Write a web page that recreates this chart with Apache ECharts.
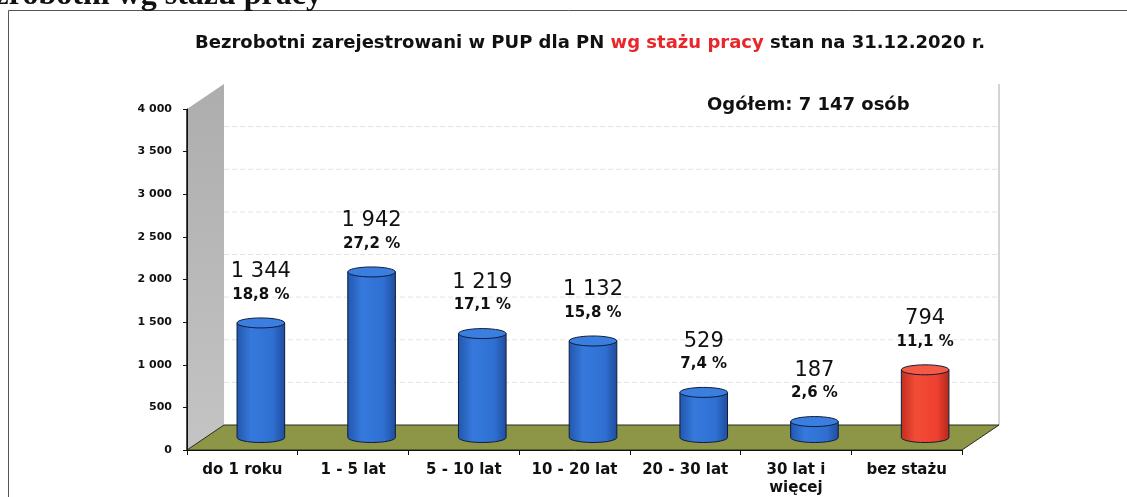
<!DOCTYPE html>
<html>
<head>
<meta charset="utf-8">
<script src="https://cdn.jsdelivr.net/npm/echarts@6/dist/echarts.min.js"></script>
<style>
html, body { margin: 0; padding: 0; background: #fff; }
#chart { width: 1127px; height: 497px; }
</style>
</head>
<body>
<div id="chart"></div>
<script>
var categories = ['do 1 roku', '1 - 5 lat', '5 - 10 lat', '10 - 20 lat', '20 - 30 lat', '30 lat i\nwięcej', 'bez stażu'];
var values = [1344, 1942, 1219, 1132, 529, 187, 794];
var percents = ['18,8 %', '27,2 %', '17,1 %', '15,8 %', '7,4 %', '2,6 %', '11,1 %'];
var yMin = 0, yMax = 4000, yStep = 500;
var heading = 'Bezrobotni wg stażu pracy';
var totalLabel = 'Ogółem: 7 147 osób';

var FONT = '"DejaVu Sans", Arial, sans-serif';
var DX = 37, DY = -25; // depth of the 3D box

function fmt(v) {
    return String(v).replace(/\B(?=(\d{3})+(?!\d))/g, ' ');
}

// wall, floor and back gridlines
function renderScene(params, api) {
    var cs = params.coordSys;
    var x0 = cs.x, x1 = cs.x + cs.width, yT = cs.y, yB = cs.y + cs.height;
    var children = [];
    for (var v = yMin + yStep; v < yMax; v += yStep) {
        var y = api.coord([0, v])[1] + DY;
        children.push({
            type: 'line',
            shape: { x1: x0 + DX, y1: y, x2: x1 + DX, y2: y },
            style: { stroke: '#e2e2e2', lineWidth: 1, lineDash: [5, 3] }
        });
    }
    children.push({
        type: 'line',
        shape: { x1: x1 + DX, y1: yT + DY, x2: x1 + DX, y2: yB + DY },
        style: { stroke: '#a8a8a8', lineWidth: 1 }
    });
    children.push({
        type: 'polygon',
        shape: { points: [[x0, yB], [x0, yT], [x0 + DX, yT + DY], [x0 + DX, yB + DY]] },
        style: {
            fill: new echarts.graphic.LinearGradient(0, 0, 1, 1, [
                { offset: 0, color: '#adadad' },
                { offset: 1, color: '#c4c4c4' }
            ])
        }
    });
    children.push({
        type: 'polygon',
        shape: { points: [[x0, yB], [x1, yB], [x1 + DX, yB + DY], [x0 + DX, yB + DY]] },
        style: { fill: '#8c9646', stroke: '#2a2a1a', lineWidth: 1 }
    });
    children.push({
        type: 'line',
        shape: { x1: x0, y1: yT, x2: x0, y2: yB },
        style: { stroke: '#111', lineWidth: 1.5 }
    });
    return { type: 'group', children: children };
}

function renderCylinder(params, api) {
    var i = params.dataIndex;
    var v = api.value(1);
    var base = api.coord([i, 0]);
    var top = api.coord([i, v]);
    var bw = api.size([1, 0])[0];
    var cx = base[0] + DX / 2;
    var yb = base[1] + DY / 2;
    var yt = top[1] + DY / 2;
    var rx = bw * 0.215, ry = 5;
    var red = i === categories.length - 1;
    var bodyFill = new echarts.graphic.LinearGradient(0, 0, 1, 0, red ? [
        { offset: 0, color: '#c02e1f' },
        { offset: 0.3, color: '#f24c36' },
        { offset: 0.75, color: '#ee4030' },
        { offset: 1, color: '#b02819' }
    ] : [
        { offset: 0, color: '#2256ac' },
        { offset: 0.3, color: '#3679dc' },
        { offset: 0.75, color: '#2f6fd2' },
        { offset: 1, color: '#1f4c9c' }
    ]);
    var topFill = red ? '#f45a44' : '#3a7fdf';
    var body = 'M' + (cx - rx) + ' ' + yt + ' L' + (cx - rx) + ' ' + yb +
        ' A' + rx + ' ' + ry + ' 0 0 0 ' + (cx + rx) + ' ' + yb +
        ' L' + (cx + rx) + ' ' + yt + ' Z';
    var cap = 'M' + (cx - rx) + ' ' + yt +
        ' A' + rx + ' ' + ry + ' 0 1 0 ' + (cx + rx) + ' ' + yt +
        ' A' + rx + ' ' + ry + ' 0 1 0 ' + (cx - rx) + ' ' + yt + ' Z';
    var capTop = yt - ry;
    return {
        type: 'group',
        children: [
            { type: 'path', shape: { pathData: body }, style: { fill: bodyFill, stroke: '#0f1c3c', lineWidth: 1 } },
            { type: 'path', shape: { pathData: cap }, style: { fill: topFill, stroke: '#0f1c3c', lineWidth: 1 } },
            {
                type: 'text',
                style: {
                    text: percents[i], x: cx, y: capTop - 23, align: 'center', verticalAlign: 'middle',
                    font: 'bold 15px ' + FONT, fill: '#111'
                }
            },
            {
                type: 'text',
                style: {
                    text: fmt(values[i]), x: cx, y: capTop - 46, align: 'center', verticalAlign: 'middle',
                    font: '21px ' + FONT, fill: '#111'
                }
            }
        ]
    };
}

var chart = echarts.init(document.getElementById('chart'));

chart.setOption({
    animation: false,
    backgroundColor: '#fff',
    title: {
        text: '{a|Bezrobotni zarejestrowani w PUP dla PN }{r|wg stażu pracy}{a| stan na 31.12.2020 r.}',
        left: 190,
        top: 29,
        textStyle: {
            rich: {
                a: { fontFamily: FONT, fontWeight: 'bold', fontSize: 18, color: '#111' },
                r: { fontFamily: FONT, fontWeight: 'bold', fontSize: 18, color: '#e8262b' }
            }
        }
    },
    graphic: [
        {
            type: 'rect',
            shape: { x: 8.5, y: 10.5, width: 1300, height: 600 },
            style: { fill: 'none', stroke: '#555', lineWidth: 1 }
        },
        {
            type: 'text',
            x: 322, y: 12,
            style: {
                text: heading, align: 'right', verticalAlign: 'bottom',
                font: 'bold 32px "Liberation Serif", "Times New Roman", serif', fill: '#111'
            }
        },
        {
            type: 'text',
            x: 707, y: 105,
            style: {
                text: totalLabel, align: 'left', verticalAlign: 'middle',
                font: 'bold 18px ' + FONT, fill: '#111'
            }
        }
    ],
    grid: { left: 187, right: 165, top: 109, bottom: 46 },
    xAxis: {
        type: 'category',
        data: categories,
        z: 5,
        axisLine: { lineStyle: { color: '#111', width: 1 } },
        axisTick: { show: true, length: 5, lineStyle: { color: '#111' } },
        axisLabel: {
            interval: 0,
            margin: 11,
            fontFamily: FONT, fontWeight: 'bold', fontSize: 15, color: '#111', lineHeight: 18
        }
    },
    yAxis: {
        type: 'value',
        min: yMin, max: yMax, interval: yStep,
        z: 5,
        axisLine: { show: true, lineStyle: { color: '#111', width: 1 } },
        axisTick: { show: true, length: 4, lineStyle: { color: '#111' } },
        splitLine: { show: false },
        axisLabel: {
            margin: 15,
            fontFamily: FONT, fontWeight: 'bold', fontSize: 11, color: '#111',
            formatter: fmt
        }
    },
    series: [
        {
            type: 'custom',
            z: 1,
            clip: false,
            silent: true,
            renderItem: renderScene,
            data: [[0, 0]]
        },
        {
            type: 'custom',
            z: 3,
            clip: false,
            renderItem: renderCylinder,
            encode: { x: 0, y: 1 },
            data: values.map(function (v, i) { return [i, v]; })
        }
    ]
});
</script>
</body>
</html>
